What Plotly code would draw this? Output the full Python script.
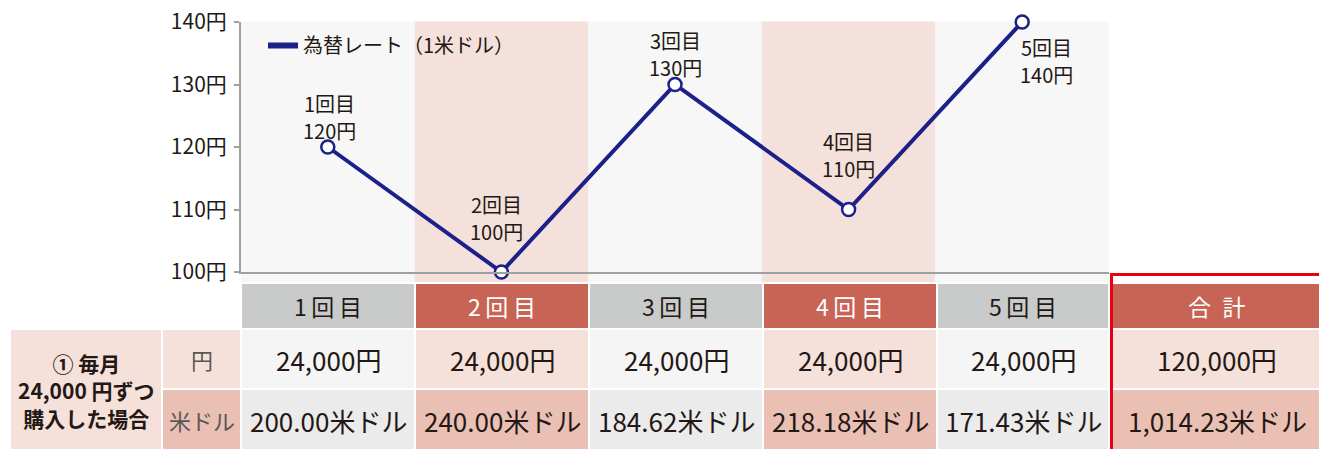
import plotly.graph_objects as go

# ---------------- data ----------------
rounds = ["1回目", "2回目", "3回目", "4回目", "5回目"]
rates = [120, 100, 130, 110, 140]
yen_amounts = ["24,000円", "24,000円", "24,000円", "24,000円", "24,000円"]
usd_amounts = ["200.00米ドル", "240.00米ドル", "184.62米ドル", "218.18米ドル", "171.43米ドル"]
total_yen = "120,000円"
total_usd = "1,014.23米ドル"
total_label = "合\u2002計"
y_tick_vals = [100, 110, 120, 130, 140]
y_tick_text = ["100円", "110円", "120円", "130円", "140円"]
series_name = "為替レート（1米ドル）"
row_label = "<b>① 毎月<br>24,000 円ずつ<br>購入した場合</b>"
unit_labels = ["円", "米ドル"]

# ---------------- style ----------------
W, H = 1319, 449
FONT = "Noto Sans CJK JP"
TXT = "#231815"
NAVY = "#1d2088"
GRAY_AX = "#9fa0a0"
RED_HDR = "#c86455"
GRAY_HDR = "#c9caca"
BG_ODD = "#f7f7f7"
BG_EVEN = "#f5e1db"
R1_ODD, R1_EVEN = "#f5f5f5", "#f5e1da"
R2_ODD, R2_EVEN = "#ebebeb", "#e9c0b3"
BORDER_RED = "#e60012"

X0, X1 = 241, 1109          # plot area left/right (px)
YT, YB = 22, 272            # plot area top/bottom (px)


def px(x):
    return x / W


def py(y):
    return 1 - y / H


fig = go.Figure()
idx = list(range(1, len(rounds) + 1))

fig.add_trace(go.Scatter(
    x=idx, y=rates, mode="lines+markers", name=series_name,
    line=dict(color=NAVY, width=4),
    marker=dict(size=13, color="white", line=dict(color=NAVY, width=2.5)),
    cliponaxis=False, showlegend=False,
))
# legend-only entry (line only)
fig.add_trace(go.Scatter(
    x=[None], y=[None], mode="lines", name=series_name,
    line=dict(color=NAVY, width=6), showlegend=True,
))

shapes = []
annotations = []

# chart column backgrounds
for i in idx:
    shapes.append(dict(type="rect", xref="x", yref="paper", x0=i - 0.5, x1=i + 0.5,
                       y0=py(282), y1=py(YT - 0.5), line=dict(width=0),
                       fillcolor=BG_EVEN if i % 2 == 0 else BG_ODD, layer="below"))

# data labels: (round-line y shift, value-line y shift, x shift) in px
label_shift = [(44, 17, 2), (68, 41, -5), (44, 17, 0), (68, 41, 0), (-25, -52, 24)]
for i, (r, v, (s1, s2, sx)) in enumerate(zip(rounds, rates, label_shift)):
    for txt, s in ((r, s1), (f"{v}円", s2)):
        annotations.append(dict(x=idx[i], y=v, xref="x", yref="y", text=txt,
                                showarrow=False, xanchor="center", yanchor="middle",
                                yshift=s, xshift=sx, borderpad=0,
                                font=dict(family=FONT, size=20, color=TXT)))

# ---------------- table ----------------
col_edges = [(242, 414), (416, 588), (590, 762), (764, 936), (938, 1108)]
hdr_y = (284, 328)
r1_y = (330, 388)
r2_y = (390, 450)


def cell(x0, x1, y0, y1, color, text=None, size=24, tcolor=TXT):
    shapes.append(dict(type="rect", xref="paper", yref="paper", x0=px(x0), x1=px(x1),
                       y0=py(y1), y1=py(y0), line=dict(width=0), fillcolor=color, layer="below"))
    if text is not None:
        annotations.append(dict(x=px((x0 + x1) / 2), y=py((y0 + y1) / 2), xref="paper", yref="paper",
                                text=text, showarrow=False, xanchor="center", yanchor="middle",
                                font=dict(family=FONT, size=size, color=tcolor)))


for i, (x0, x1) in enumerate(col_edges):
    even = (i % 2 == 1)
    hdr_text = "\u2009".join(list(rounds[i]))
    cell(x0, x1, *hdr_y, RED_HDR if even else GRAY_HDR, hdr_text, 23, "white" if even else TXT)
    cell(x0, x1, *r1_y, R1_EVEN if even else R1_ODD, yen_amounts[i], 26)
    cell(x0, x1, *r2_y, R2_EVEN if even else R2_ODD, usd_amounts[i], 26)

# total column
tx0, tx1 = 1113, 1321
cell(tx0, tx1, *hdr_y, RED_HDR, total_label, 23, "white")
cell(tx0, tx1, *r1_y, R1_EVEN, total_yen, 26)
cell(tx0, tx1, *r2_y, R2_EVEN, total_usd, 26)

# left label cells
cell(11, 161, 330, 450, R1_EVEN, row_label, 21)
cell(163, 240, *r1_y, R1_EVEN, unit_labels[0], 22, "#595757")
cell(163, 240, *r2_y, R2_EVEN, unit_labels[1], 22, "#595757")

# red highlight border
shapes.append(dict(type="rect", xref="paper", yref="paper", x0=px(1111.5), x1=px(1330),
                   y0=py(460), y1=py(274.5), line=dict(color=BORDER_RED, width=3),
                   fillcolor="rgba(0,0,0,0)", layer="above"))

fig.update_layout(
    width=W, height=H,
    margin=dict(l=0, r=0, t=0, b=0, pad=0, autoexpand=False),
    paper_bgcolor="white", plot_bgcolor="rgba(0,0,0,0)",
    font=dict(family=FONT, color=TXT),
    shapes=shapes, annotations=annotations,
    showlegend=True,
    legend=dict(x=px(263), y=py(26), xanchor="left", yanchor="top",
                bgcolor="rgba(0,0,0,0)", font=dict(family=FONT, size=20, color=TXT),
                itemwidth=30, tracegroupgap=0),
    xaxis=dict(domain=[px(X0), px(X1)], range=[0.5, 5.5], showline=True, linecolor=GRAY_AX,
               linewidth=2, showticklabels=False, ticks="", showgrid=False, zeroline=False,
               fixedrange=True, automargin=False),
    yaxis=dict(domain=[py(YB), py(YT)], range=[100, 140], tickvals=y_tick_vals,
               ticktext=y_tick_text, ticks="outside", ticklen=5, tickwidth=2, tickcolor=GRAY_AX,
               showline=True, linecolor=GRAY_AX, linewidth=2, showgrid=False, zeroline=False,
               tickfont=dict(family=FONT, size=21, color=TXT), ticklabelstandoff=3,
               fixedrange=True, automargin=False),
)

fig.write_html("out.html", config={"displayModeBar": False},
               post_script="document.body.style.margin='0';")
